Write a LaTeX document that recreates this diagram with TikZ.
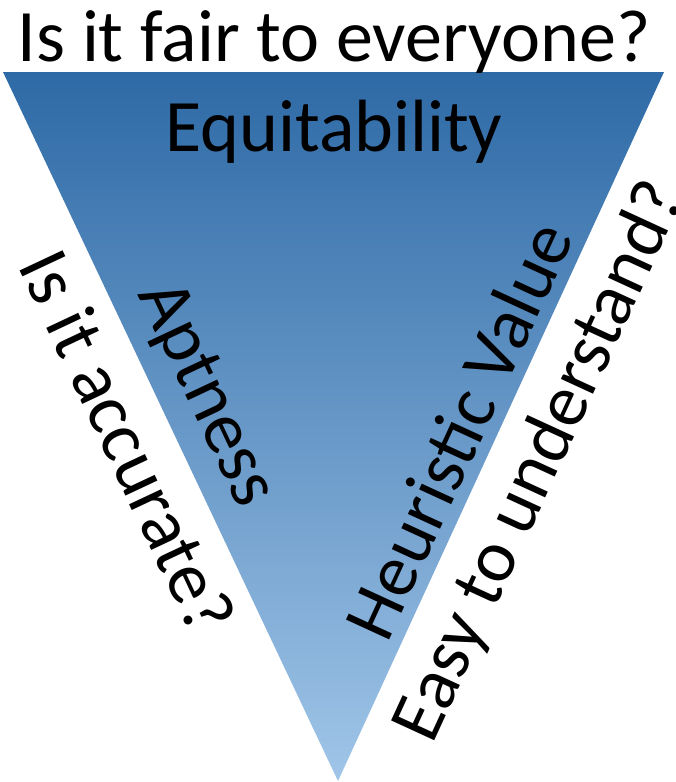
\documentclass[tikz,border=0pt]{standalone}
\usepackage{fontspec}
\setmainfont{Carlito}
\definecolor{triTop}{RGB}{46,106,166}
\definecolor{triMid}{RGB}{91,155,213}
\definecolor{triBot}{RGB}{160,197,232}
\begin{document}
\begin{tikzpicture}[x=1pt,y=-1pt,
  caption/.style={inner sep=0pt, font=\fontsize{74}{80}\selectfont, text=black}]
\useasboundingbox (0,0) rectangle (676,782);
% inverted triangle with vertical gradient
\coordinate (tl) at (3,72);
\coordinate (tr) at (664,72);
\coordinate (apex) at (338,781);
\shade[top color=triTop, middle color=triMid, bottom color=triBot]
  (tl) -- (tr) -- (apex) -- cycle;
% labels
\node[caption, anchor=base] (fair) at (334,61) {Is it fair to everyone?};
\node[caption, anchor=base] (equit) at (334,151) {Equitability};
\node[caption, rotate=-64.8] (apt) at (205,395) {Aptness};
\node[caption, rotate=-64.8] (acc) at (128,442) {Is it accurate?};
\node[caption, rotate=65.3] (heur) at (458,430) {Heuristic Value};
\node[caption, rotate=65.3] (easy) at (541,462) {Easy to understand?};
\end{tikzpicture}
\end{document}
